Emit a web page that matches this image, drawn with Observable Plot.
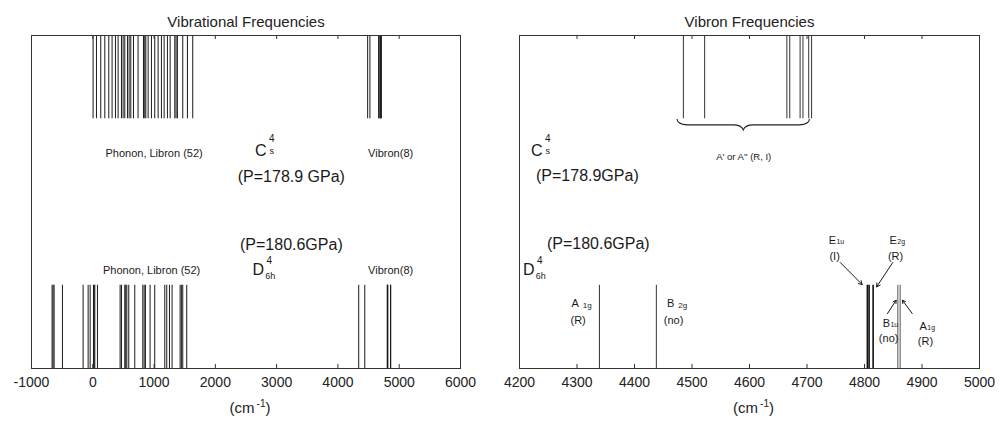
<!DOCTYPE html>
<html><head><meta charset="utf-8">
<script src="https://cdn.jsdelivr.net/npm/d3@7"></script>
<script src="https://cdn.jsdelivr.net/npm/@observablehq/plot@0.6"></script>
<style>
body{margin:0;background:#fff;}
#wrap{position:relative;width:999px;height:423px;}
#wrap svg{position:absolute;top:0;overflow:visible;}
</style></head><body><div id="wrap"></div>
<script>
// ---- data (cm^-1) ----
const phononCs = [5, 60, 130, 196, 261, 315, 370, 413, 468, 495, 522, 566, 593, 620, 664, 739, 827, 848, 865, 903, 957, 1011, 1066, 1120, 1164, 1218, 1262, 1338, 1359, 1381, 1468, 1544, 1631];
const phononD6h = [-664, -648, -631, -495, -158, -76, -43, 11, 22, 33, 76, 446, 468, 522, 538, 555, 587, 685, 816, 838, 859, 935, 1011, 1175, 1207, 1251, 1294, 1425, 1446, 1468, 1533];
const vibronCs = [4485, 4522, 4665, 4670, 4688, 4693, 4703, 4708];
const vibronD6h = [4339, 4438, 4805, 4808, 4815, 4858, 4862];
const leftTicks = [-1000, 0, 1000, 2000, 3000, 4000, 5000, 6000];
const rightTicks = [4200, 4300, 4400, 4500, 4600, 4700, 4800, 4900, 5000];
const titles = ["Vibrational Frequencies", "Vibron Frequencies"];
const unitLabel = "(cm";
const pressures = ["(P=178.9 GPa)", "(P=180.6GPa)", "(P=178.9GPa)", "(P=180.6GPa)"];
const bandTop = [0.75, 1];
const bandBottom = [0, 0.25];

const FONT = "'Liberation Sans', Arial, Helvetica, sans-serif";
const INK = "#1a1a1a";
const H = 423, MT = 35, MB = 55;

function note(t, x, y, o = {}) {
  return Plot.text([{t, x, y}], {x: "x", y: "y", text: "t", fill: INK, fontSize: 11, ...o});
}
function arrow(x1, y1, x2, y2, head = 6) {
  return Plot.arrow([{x1, y1, x2, y2}], {x1: "x1", y1: "y1", x2: "x2", y2: "y2", stroke: INK, headLength: head, strokeWidth: 1});
}
function ticksIn(ticks) {
  return [
    Plot.ruleX(ticks, {x: d => d, y1: 0, y2: 0.012, stroke: "#333"}),
    Plot.ruleX(ticks, {x: d => d, y1: 0.988, y2: 1, stroke: "#333"})
  ];
}
function bandLines(vals, band, o = {}) {
  return Plot.ruleX(vals, {x: d => d, y1: band[0], y2: band[1], stroke: INK, strokeWidth: 1, ...o});
}
function axisBits(ticks, title) {
  return [
    Plot.axisX({anchor: "bottom", ticks, tickSize: 0, tickPadding: 9, fontSize: 14, label: null, fill: "#222", tickFormat: d => String(d)}),
    Plot.text([title], {frameAnchor: "top", dy: -19, fontSize: 15, fill: "#222"}),
    Plot.text([unitLabel], {frameAnchor: "bottom", dy: 44, dx: -4, fontSize: 15, fill: "#222"}),
    Plot.text(["-1"], {frameAnchor: "bottom", dy: 38, dx: 15, fontSize: 10, fill: "#222"}),
    Plot.text([")"], {frameAnchor: "bottom", dy: 44, dx: 22, fontSize: 15, fill: "#222"}),
    Plot.frame({stroke: "#333"})
  ];
}
function brace(xa, xb, yv) {
  return (index, scales) => {
    const a = scales.x(xa), b = scales.x(xb), y = scales.y(yv), m = (a + b) / 2;
    const d = `M${a},${y} Q${a},${y + 6} ${a + 14},${y + 6} L${m - 10},${y + 6} Q${m - 2},${y + 6} ${m},${y + 11} Q${m + 2},${y + 6} ${m + 10},${y + 6} L${b - 14},${y + 6} Q${b},${y + 6} ${b},${y}`;
    return d3.create("svg:path").attr("d", d).attr("fill", "none").attr("stroke", "#222").attr("stroke-width", 1.1).node();
  };
}

// ---- left panel ----
const left = Plot.plot({
  width: 490, height: H, marginLeft: 31, marginRight: 30, marginTop: MT, marginBottom: MB,
  style: {fontFamily: FONT, background: "transparent"},
  x: {domain: [-1000, 6000]},
  y: {domain: [0, 1], axis: null},
  marks: [
    bandLines(phononCs, bandTop),
    bandLines(vibronCs, bandTop),
    bandLines(phononD6h, bandBottom),
    bandLines(vibronD6h, bandBottom),
    ...ticksIn(leftTicks),
    note("Phonon, Libron (52)", 1000, 0.645),
    note("Vibron(8)", 4860, 0.645),
    note("C", 2740, 0.655, {fontSize: 16}),
    note("4", 2740, 0.655, {fontSize: 10, dx: 11, dy: -12}),
    note("s", 2740, 0.655, {fontSize: 9, dx: 11, dy: 1}),
    note(pressures[0], 3240, 0.575, {fontSize: 16}),
    note(pressures[1], 3240, 0.37, {fontSize: 16}),
    note("Phonon, Libron (52)", 960, 0.295),
    note("Vibron(8)", 4860, 0.295),
    note("D", 2700, 0.295, {fontSize: 16}),
    note("4", 2700, 0.295, {fontSize: 10, dx: 11, dy: -9}),
    note("6h", 2700, 0.295, {fontSize: 9, dx: 12, dy: 6}),
    ...axisBits(leftTicks, titles[0])
  ]
});

// ---- right panel ----
const right = Plot.plot({
  width: 509, height: H, marginLeft: 29, marginRight: 20, marginTop: MT, marginBottom: MB,
  style: {fontFamily: FONT, background: "transparent"},
  x: {domain: [4200, 5000]},
  y: {domain: [0, 1], axis: null},
  marks: [
    bandLines(vibronCs, bandTop, {stroke: "#333"}),
    bandLines(vibronD6h.slice(0, 2), bandBottom, {stroke: "#333"}),
    bandLines(vibronD6h.slice(2, 5), bandBottom, {strokeWidth: 1.6, stroke: "#111"}),
    bandLines(vibronD6h.slice(5), bandBottom, {stroke: "#555"}),
    ...ticksIn(rightTicks),
    brace(4475, 4705, 0.748),
    note("A' or A'' (R, I)", 4590, 0.635, {fontSize: 9.5}),
    note("C", 4230, 0.655, {fontSize: 16}),
    note("4", 4230, 0.655, {fontSize: 10, dx: 11, dy: -12}),
    note("s", 4230, 0.655, {fontSize: 9, dx: 11, dy: 1}),
    note(pressures[2], 4318, 0.578, {fontSize: 16}),
    note(pressures[3], 4337, 0.375, {fontSize: 16}),
    note("D", 4216, 0.295, {fontSize: 16}),
    note("4", 4216, 0.295, {fontSize: 10, dx: 11, dy: -9}),
    note("6h", 4216, 0.295, {fontSize: 9, dx: 12, dy: 6}),
    note("A", 4297, 0.195, {fontSize: 11}),
    note("1g", 4297, 0.195, {fontSize: 8, dx: 12, dy: 2}),
    note("(R)", 4302, 0.145, {fontSize: 11}),
    note("B", 4463, 0.195, {fontSize: 11}),
    note("2g", 4463, 0.195, {fontSize: 8, dx: 12, dy: 2}),
    note("(no)", 4468, 0.145, {fontSize: 11}),
    note("E", 4744, 0.385, {fontSize: 11}),
    note("1u", 4744, 0.385, {fontSize: 7, dx: 8, dy: 1}),
    note("(I)", 4748, 0.335, {fontSize: 11}),
    note("E", 4850, 0.385, {fontSize: 11}),
    note("2g", 4850, 0.385, {fontSize: 7, dx: 8, dy: 1}),
    note("(R)", 4854, 0.335, {fontSize: 11}),
    note("B", 4838, 0.135, {fontSize: 11}),
    note("1u", 4838, 0.135, {fontSize: 7, dx: 8, dy: 1}),
    note("(no)", 4842, 0.09, {fontSize: 11}),
    note("A", 4902, 0.126, {fontSize: 11}),
    note("1g", 4902, 0.126, {fontSize: 7, dx: 8, dy: 1}),
    note("(R)", 4906, 0.081, {fontSize: 11}),
    arrow(4758, 0.318, 4796, 0.252),
    arrow(4849, 0.318, 4821, 0.245),
    arrow(4840, 0.165, 4855, 0.205, 5),
    arrow(4883, 0.165, 4866, 0.205, 5),
    ...axisBits(rightTicks, titles[1])
  ]
});

left.style.left = "0px";
right.style.left = "490px";
document.getElementById("wrap").append(left, right);
</script>
</body></html>
